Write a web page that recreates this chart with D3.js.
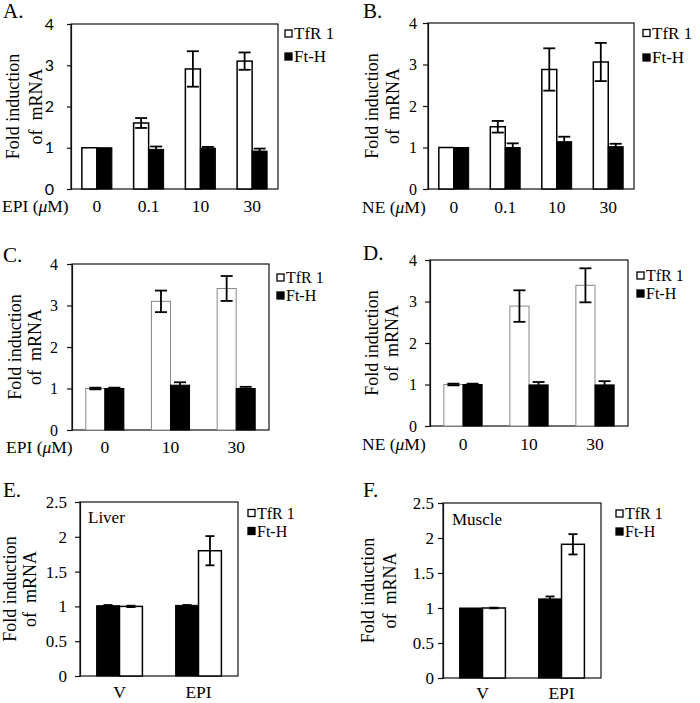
<!DOCTYPE html>
<html><head><meta charset="utf-8">
<script src="https://cdn.jsdelivr.net/npm/d3@7"></script>
<style>
html,body{margin:0;padding:0;background:#fff;}
svg{display:block;font-family:"Liberation Serif","DejaVu Serif",serif;}
text{font-family:"Liberation Serif","DejaVu Serif",serif;fill:#000;}
</style></head>
<body>
<svg id="chart" width="700" height="703"></svg>
<script>
// ---------- DATA ----------
const seriesNames = ["TfR 1", "Ft-H"];

const catsA = ["0", "0.1", "10", "30"];
const tfrA = [1.0, 1.6, 2.91, 3.1];
const tfrErrA = [0, 0.12, 0.43, 0.21];
const fthA = [1.0, 0.96, 0.99, 0.92];
const fthErrA = [0, 0.07, 0.03, 0.06];

const catsB = ["0", "0.1", "10", "30"];
const tfrB = [1.0, 1.5, 2.88, 3.06];
const tfrErrB = [0, 0.14, 0.51, 0.46];
const fthB = [1.0, 1.0, 1.14, 1.02];
const fthErrB = [0, 0.1, 0.12, 0.07];

const catsC = ["0", "10", "30"];
const tfrC = [1.0, 3.1, 3.41];
const tfrErrC = [0.02, 0.26, 0.3];
const fthC = [1.0, 1.08, 1.0];
const fthErrC = [0.02, 0.07, 0.04];

const catsD = ["0", "10", "30"];
const tfrD = [1.0, 2.89, 3.39];
const tfrErrD = [0.02, 0.38, 0.41];
const fthD = [1.0, 0.99, 0.99];
const fthErrD = [0.02, 0.07, 0.09];

const catsE = ["V", "EPI"];
const tfrE = [1.0, 1.8];
const tfrErrE = [0.01, 0.21];
const fthE = [1.01, 1.015];
const fthErrE = [0.01, 0.005];

const catsF = ["V", "EPI"];
const tfrF = [1.0, 1.91];
const tfrErrF = [0.005, 0.145];
const fthF = [1.0, 1.13];
const fthErrF = [0, 0.035];

const ticks4 = [0, 1, 2, 3, 4];
const ticks25 = [0, 0.5, 1, 1.5, 2, 2.5];

// ---------- LAYOUT ----------
const panels = [
  {label:"A.", lx:3, ly:18, l:71, r:278, t:24, b:189, ymax:4, ticks:ticks4, cats:catsA,
   tfr:tfrA, tfrE:tfrErrA, fth:fthA, fthE:fthErrA, order:["tfr","fth"], whiteStroke:"#000", whiteW:1.5,
   tickFont:'Lato, "Open Sans", sans-serif', tickSize:4, tickPad:13, tickFs:16,
   yt1x:13, yt2x:36, xlab:"EPI", xlx:2, xly:212, legX:285, legY1:33.5, legY2:56.5, legFs:17, cap:6},
  {label:"B.", lx:363, ly:18, l:428, r:634, t:23, b:189, ymax:4, ticks:ticks4, cats:catsB,
   tfr:tfrB, tfrE:tfrErrB, fth:fthB, fthE:fthErrB, order:["tfr","fth"], whiteStroke:"#000", whiteW:1.5,
   tickSize:5, tickPad:6, tickFs:16,
   yt1x:372, yt2x:393, xlab:"NE", xlx:362, xly:213, legX:643, legY1:33, legY2:57.5, legFs:17, cap:6},
  {label:"C.", lx:3, ly:262, l:72, r:269, t:264, b:430, ymax:4, ticks:ticks4, cats:catsC,
   tfr:tfrC, tfrE:tfrErrC, fth:fthC, fthE:fthErrC, order:["tfr","fth"], whiteStroke:"#888", whiteW:1,
   tickSize:5, tickPad:9, tickFs:16,
   yt1x:15, yt2x:35, xlab:"EPI", xlx:6, xly:453, legX:277, legY1:277.5, legY2:295.5, legFs:16, cap:6},
  {label:"D.", lx:363, ly:260, l:430, r:628, t:260, b:426, ymax:4, ticks:ticks4, cats:catsD,
   tfr:tfrD, tfrE:tfrErrD, fth:fthD, fthE:fthErrD, order:["tfr","fth"], whiteStroke:"#888", whiteW:1,
   tickSize:5, tickPad:8, tickFs:16,
   yt1x:372, yt2x:392, xlab:"NE", xlx:362, xly:450, legX:637, legY1:275.5, legY2:293.5, legFs:16, cap:6},
  {label:"E.", lx:3, ly:497, l:80, r:238, t:502, b:676, ymax:2.5, ticks:ticks25, cats:catsE,
   tfr:tfrE, tfrE:tfrErrE, fth:fthE, fthE:fthErrE, order:["fth","tfr"], whiteStroke:"#000", whiteW:1.5,
   tickSize:5, tickPad:8, tickFs:17,
   yt1x:10, yt2x:30, xlab:null, xly:698, legX:248, legY1:513, legY2:531, legFs:16, cap:4.5,
   note:"Liver", nx:88, ny:523},
  {label:"F.", lx:363, ly:497, l:443, r:601, t:503, b:678, ymax:2.5, ticks:ticks25, cats:catsF,
   tfr:tfrF, tfrE:tfrErrF, fth:fthF, fthE:fthErrF, order:["fth","tfr"], whiteStroke:"#000", whiteW:1.5,
   tickSize:5, tickPad:4, tickFs:17,
   yt1x:368, yt2x:390, xlab:null, xly:699, legX:616, legY1:513.5, legY2:531.5, legFs:16, cap:4.5,
   note:"Muscle", nx:452, ny:525}
];

const svg = d3.select("#chart");
const serif = '"Liberation Serif","DejaVu Serif",serif';

function T(sel, fs) {
  return sel.attr("font-family", serif).style("font-family", serif).style("font-size", fs + "px");
}

panels.forEach(p => {
  const g = svg.append("g");
  const x0 = d3.scaleBand().domain(p.cats).range([p.l, p.r]).padding(0);
  const bw = x0.bandwidth();
  const x1 = d3.scaleBand().domain(p.order).range([bw * 0.21, bw * 0.79]).padding(0);
  const y = d3.scaleLinear().domain([0, p.ymax]).range([p.b, p.t]);

  // frame
  g.append("rect").attr("x", p.l).attr("y", p.t).attr("width", p.r - p.l).attr("height", p.b - p.t)
    .attr("fill", "none").attr("stroke", "#111").attr("stroke-width", 1.2);

  const rows = [];
  p.cats.forEach((c, i) => {
    p.order.forEach(k => {
      rows.push({c, k, v: p[k][i], e: (k === "tfr" ? p.tfrE : p.fthE)[i]});
    });
  });

  // bars
  g.selectAll("rect.bar").data(rows).enter().append("rect").attr("class", "bar")
    .attr("x", d => x0(d.c) + x1(d.k))
    .attr("width", x1.bandwidth())
    .attr("y", d => y(d.v))
    .attr("height", d => y(0) - y(d.v))
    .attr("fill", d => d.k === "tfr" ? "#fff" : "#000")
    .attr("stroke", d => d.k === "tfr" ? p.whiteStroke : "#000")
    .attr("stroke-width", d => d.k === "tfr" ? p.whiteW : 1);

  // error bars
  const eb = rows.filter(d => d.e > 0);
  const cx = d => x0(d.c) + x1(d.k) + x1.bandwidth() / 2;
  g.selectAll("line.ev").data(eb).enter().append("line")
    .attr("x1", cx).attr("x2", cx)
    .attr("y1", d => y(d.v - d.e)).attr("y2", d => y(d.v + d.e))
    .attr("stroke", "#000").attr("stroke-width", 1.8);
  ["top", "bot"].forEach(w => {
    g.selectAll("line.cap" + w).data(eb).enter().append("line")
      .attr("x1", d => cx(d) - p.cap).attr("x2", d => cx(d) + p.cap)
      .attr("y1", d => y(w === "top" ? d.v + d.e : d.v - d.e))
      .attr("y2", d => y(w === "top" ? d.v + d.e : d.v - d.e))
      .attr("stroke", "#000").attr("stroke-width", 1.8);
  });

  // y axis
  const ax = g.append("g").attr("transform", `translate(${p.l},0)`)
    .call(d3.axisLeft(y).tickValues(p.ticks).tickSize(p.tickSize).tickPadding(p.tickPad)
      .tickFormat(d => String(d)));
  ax.attr("font-family", null).attr("font-size", null);
  ax.select(".domain").attr("stroke", "#111").attr("stroke-width", 1.2);
  ax.selectAll(".tick line").attr("stroke", "#111").attr("stroke-width", 1.2);
  const tf = p.tickFont || serif;
  ax.selectAll(".tick text").attr("font-family", tf).style("font-family", tf)
    .style("font-size", p.tickFs + "px").attr("fill", "#000");

  // x axis category labels
  T(g.selectAll("text.xl").data(p.cats).enter().append("text")
    .attr("x", d => x0(d) + bw / 2).attr("y", p.xly)
    .attr("text-anchor", "middle"), 17.5).text(d => d);

  if (p.xlab) {
    const t = T(g.append("text").attr("x", p.xlx).attr("y", p.xly), 17.5);
    t.append("tspan").text(p.xlab + " (");
    t.append("tspan").style("font-style", "italic").text("\u03bc");
    t.append("tspan").text("M)");
  }

  // y title
  const cyMid = (p.t + p.b) / 2;
  [["Fold induction", p.yt1x], ["of  mRNA", p.yt2x]].forEach(([s, xx]) => {
    T(g.append("text").attr("transform", `translate(${xx},${cyMid}) rotate(-90)`)
      .attr("text-anchor", "middle").attr("dy", "0.35em")
      .style("white-space", "pre"), 18).text(s);
  });

  // panel label
  T(g.append("text").attr("x", p.lx).attr("y", p.ly), 21).text(p.label);

  // note
  if (p.note) T(g.append("text").attr("x", p.nx).attr("y", p.ny), 17).text(p.note);

  // legend
  [[seriesNames[0], "#fff", p.legY1], [seriesNames[1], "#000", p.legY2]].forEach(([nm, fill, yy]) => {
    g.append("rect").attr("x", p.legX).attr("y", yy - 3.5).attr("width", 7).attr("height", 7)
      .attr("fill", fill).attr("stroke", "#000").attr("stroke-width", 1.3);
    T(g.append("text").attr("x", p.legX + 9).attr("y", yy).attr("dy", "0.35em"), p.legFs).text(nm);
  });
});
</script>
</body></html>
